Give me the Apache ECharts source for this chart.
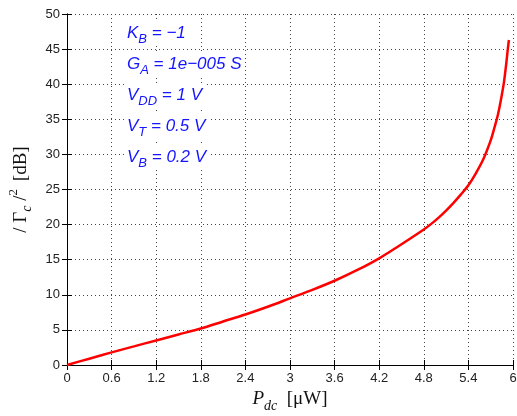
<!DOCTYPE html>
<html>
<head>
<meta charset="utf-8">
<script src="https://cdn.jsdelivr.net/npm/echarts@6/dist/echarts.min.js"></script>
<style>
    html, body { margin: 0; padding: 0; background: #fff; }
    #chart { width: 517px; height: 416px; }
</style>
</head>
<body>
<div id="chart"></div>
<script>
    // values
    var pdc = [0, 0.3, 0.6, 0.9, 1.2, 1.5, 1.8, 2.1, 2.4, 2.7, 3.0, 3.3, 3.6, 3.9, 4.2, 4.5, 4.8, 4.9, 5.0, 5.1, 5.2, 5.3, 5.4, 5.5, 5.6, 5.7, 5.75, 5.8, 5.85, 5.88, 5.91, 5.93, 5.945];
    var gammaDb = [0, 0.9, 1.8, 2.65, 3.5, 4.35, 5.2, 6.2, 7.2, 8.3, 9.5, 10.7, 12.0, 13.5, 15.2, 17.2, 19.3, 20.1, 21.0, 22.0, 23.1, 24.3, 25.6, 27.3, 29.3, 32.0, 33.8, 35.8, 38.5, 40.4, 43.0, 45.0, 46.3];
    var notes = [
        ['K', 'B', ' = \u22121'],
        ['G', 'A', ' = 1e\u2212005 S'],
        ['V', 'DD', ' = 1 V'],
        ['V', 'T', ' = 0.5 V'],
        ['V', 'B', ' = 0.2 V']
    ];

    var chart = echarts.init(document.getElementById('chart'));

    var points = pdc.map(function (x, i) { return [x, gammaDb[i]]; });

    var noteRich = {
        m: { fontFamily: 'Liberation Sans', fontStyle: 'italic', fontSize: 17, fill: '#1515ff' },
        s: { fontFamily: 'Liberation Sans', fontStyle: 'italic', fontSize: 13, fill: '#1515ff', padding: [12, 0, 0, 0] }
    };
    var noteGraphics = notes.map(function (n, i) {
        return {
            type: 'text',
            left: 124,
            top: 21 + i * 31,
            z: 10,
            style: {
                text: '{m|' + n[0] + '}{s|' + n[1] + '}{m|' + n[2] + '}',
                rich: noteRich,
                backgroundColor: '#fff',
                padding: [0, 3, 0, 3]
            }
        };
    });

    var tickFmt = function (v) {
        return String(+(+v).toFixed(1));
    };

    var gridLine = { show: true, lineStyle: { color: '#444', type: [1, 3], width: 1 } };

    option = {
        backgroundColor: '#fff',
        animation: false,
        grid: { left: 67, right: 4, top: 14, bottom: 51, outerBoundsMode: 'none', containLabel: false },
        xAxis: [
            {
                type: 'value', min: 0, max: 6, interval: 0.6,
                axisLine: { lineStyle: { color: '#000', width: 1 } },
                axisTick: { inside: true, length: 5, lineStyle: { color: '#000' } },
                axisLabel: { color: '#222', fontFamily: 'Liberation Sans', fontSize: 13, margin: 7, formatter: tickFmt },
                splitLine: gridLine,
                name: '{i|P}{s|dc}{r|  [\u03bcW]}',
                nameLocation: 'middle',
                nameGap: 19,
                nameTextStyle: {
                    rich: {
                        i: { fontFamily: 'Liberation Serif', fontStyle: 'italic', fontSize: 19, color: '#111' },
                        s: { fontFamily: 'Liberation Serif', fontStyle: 'italic', fontSize: 14, color: '#111', padding: [14, 0, 0, 0] },
                        r: { fontFamily: 'Liberation Serif', fontSize: 19, color: '#111' }
                    }
                }
            },
            {
                type: 'value', min: 0, max: 6, interval: 0.6, position: 'top',
                axisLine: { show: true, lineStyle: { color: '#000', width: 1 } },
                axisTick: { inside: true, length: 5, lineStyle: { color: '#000' } },
                axisLabel: { show: false },
                splitLine: { show: false }
            }
        ],
        yAxis: [
            {
                type: 'value', min: 0, max: 50, interval: 5,
                axisLine: { show: true, lineStyle: { color: '#000', width: 1 } },
                axisTick: { show: true, inside: true, length: 5, lineStyle: { color: '#000' } },
                axisLabel: { color: '#222', fontFamily: 'Liberation Sans', fontSize: 13, margin: 7 },
                splitLine: gridLine,
                name: '{r|/ \u0393}{s|c}{r| /}{p|2}{r| [dB]}',
                nameLocation: 'middle',
                nameRotate: 90,
                nameGap: 27,
                nameTextStyle: {
                    rich: {
                        r: { fontFamily: 'Liberation Serif', fontSize: 19, color: '#111' },
                        s: { fontFamily: 'Liberation Serif', fontStyle: 'italic', fontSize: 14, color: '#111', padding: [14, 0, 0, 0] },
                        p: { fontFamily: 'Liberation Serif', fontSize: 13, color: '#111', padding: [0, 3, 14, 0] }
                    }
                }
            },
            {
                type: 'value', min: 0, max: 50, interval: 5, position: 'right',
                axisLine: { show: true, lineStyle: { color: '#000', width: 1 } },
                axisTick: { show: true, inside: true, length: 5, lineStyle: { color: '#000' } },
                axisLabel: { show: false },
                splitLine: { show: false }
            }
        ],
        series: [
            {
                type: 'line',
                data: points,
                smooth: 0.3,
                showSymbol: false,
                lineStyle: { color: '#ff0000', width: 2.5 },
                z: 5
            }
        ],
        graphic: noteGraphics
    };

    chart.setOption(option, true);
</script>
</body>
</html>
